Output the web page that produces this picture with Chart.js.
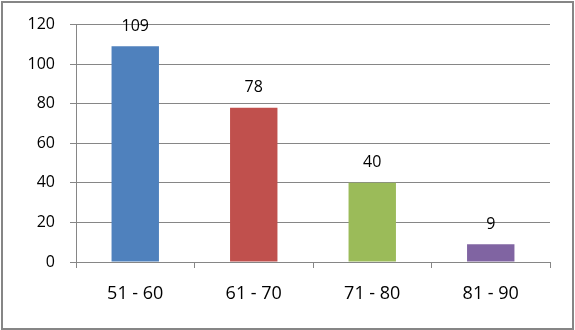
<!DOCTYPE html>
<html>
<head>
<meta charset="utf-8">
<script src="https://cdn.jsdelivr.net/npm/chart.js@4"></script>
<style>
  body { margin: 0; background: #fff; }
  canvas { display: block; }
</style>
</head>
<body>
<canvas id="graphique" width="575" height="330"></canvas>
<script>
// Données du graphique
const categories = ['51 - 60', '61 - 70', '71 - 80', '81 - 90'];
const valeurs = [109, 78, 40, 9];
const couleurs = ['#4F81BD', '#C0504D', '#9BBB59', '#8064A2'];
const graduations = [0, 20, 40, 60, 80, 100, 120];

const gris = '#868686';

// Cadre autour du graphique + fond blanc
const cadre = {
  id: 'cadre',
  beforeDraw(chart) {
    const ctx = chart.ctx;
    ctx.save();
    ctx.fillStyle = '#fff';
    ctx.fillRect(0, 0, chart.width, chart.height);
    ctx.strokeStyle = gris;
    ctx.lineWidth = 2;
    ctx.strokeRect(2, 2, chart.width - 4, chart.height - 3);
    ctx.restore();
  }
};

// Etiquettes de valeur au dessus des barres
const etiquettes = {
  id: 'etiquettes',
  afterDatasetsDraw(chart) {
    const ctx = chart.ctx;
    const meta = chart.getDatasetMeta(0);
    ctx.save();
    ctx.font = '16px "Open Sans"';
    ctx.fillStyle = '#000';
    ctx.textAlign = 'center';
    ctx.textBaseline = 'middle';
    meta.data.forEach(function (bar, i) {
      ctx.fillText(String(valeurs[i]), bar.x, bar.y - 20);
    });
    ctx.restore();
  }
};

new Chart(document.getElementById('graphique'), {
  type: 'bar',
  data: {
    labels: categories,
    datasets: [{
      data: valeurs,
      backgroundColor: couleurs,
      borderWidth: 0,
      barPercentage: 0.4,
      categoryPercentage: 1
    }]
  },
  options: {
    responsive: false,
    animation: false,
    layout: { padding: { top: 24, right: 25, left: 0, bottom: 0 } },
    plugins: {
      legend: { display: false },
      tooltip: { enabled: false }
    },
    scales: {
      x: {
        afterFit(scale) { scale.height = 68; },
        grid: { drawOnChartArea: false, drawTicks: true, tickLength: 6, color: gris, offset: true },
        border: { color: gris },
        ticks: { color: '#000', padding: 15, font: { family: 'Open Sans', size: 18 } }
      },
      y: {
        min: 0,
        max: 120,
        afterFit(scale) { scale.width = 76; },
        afterBuildTicks(scale) { scale.ticks = graduations.map(v => ({ value: v })); },
        grid: { color: gris, tickLength: 6 },
        border: { color: gris },
        ticks: { color: '#000', padding: 15, font: { family: 'Open Sans', size: 16 } }
      }
    }
  },
  plugins: [cadre, etiquettes]
});
</script>
</body>
</html>
